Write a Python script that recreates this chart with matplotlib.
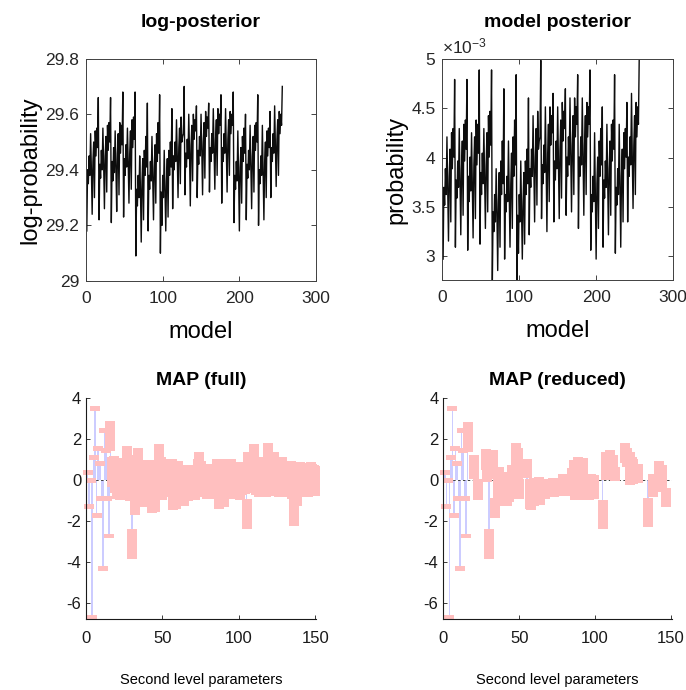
import numpy as np
import matplotlib
matplotlib.use("Agg")
import matplotlib.pyplot as plt
from matplotlib.ticker import FuncFormatter

plt.rcParams['font.family'] = ['Liberation Sans', 'DejaVu Sans']
plt.rcParams['axes.unicode_minus'] = False
plt.rcParams['mathtext.fontset'] = 'custom'
plt.rcParams['mathtext.rm'] = 'Liberation Sans'
plt.rcParams['mathtext.default'] = 'regular'

# log-posterior of each of the 256 reduced models
log_post = [
    29.18, 29.40, 29.35, 29.45, 29.38, 29.53, 29.40, 29.24, 29.43, 29.50, 29.30, 29.54, 29.45, 29.55, 29.48, 29.66,
    29.22, 29.42, 29.37, 29.47, 29.40, 29.55, 29.42, 29.26, 29.45, 29.52, 29.32, 29.56, 29.47, 29.57, 29.50, 29.66,
    29.21, 29.43, 29.36, 29.48, 29.39, 29.54, 29.41, 29.25, 29.46, 29.53, 29.31, 29.57, 29.46, 29.56, 29.49, 29.68,
    29.23, 29.44, 29.38, 29.49, 29.41, 29.55, 29.43, 29.28, 29.46, 29.54, 29.33, 29.58, 29.48, 29.59, 29.51, 29.68,
    29.09, 29.33, 29.27, 29.38, 29.30, 29.45, 29.33, 29.14, 29.36, 29.44, 29.22, 29.47, 29.38, 29.52, 29.41, 29.64,
    29.18, 29.38, 29.33, 29.43, 29.36, 29.52, 29.38, 29.22, 29.41, 29.49, 29.28, 29.53, 29.43, 29.57, 29.46, 29.67,
    29.10, 29.32, 29.20, 29.38, 29.30, 29.47, 29.33, 29.18, 29.36, 29.44, 29.23, 29.47, 29.38, 29.50, 29.41, 29.62,
    29.26, 29.45, 29.40, 29.50, 29.43, 29.58, 29.45, 29.30, 29.48, 29.55, 29.35, 29.59, 29.50, 29.52, 29.53, 29.70,
    29.31, 29.46, 29.41, 29.51, 29.44, 29.60, 29.46, 29.27, 29.49, 29.56, 29.36, 29.60, 29.51, 29.58, 29.54, 29.63,
    29.30, 29.47, 29.42, 29.52, 29.45, 29.60, 29.47, 29.31, 29.50, 29.57, 29.37, 29.61, 29.52, 29.59, 29.55, 29.64,
    29.32, 29.48, 29.43, 29.53, 29.46, 29.62, 29.48, 29.33, 29.51, 29.58, 29.38, 29.62, 29.53, 29.60, 29.56, 29.67,
    29.28, 29.48, 29.43, 29.53, 29.46, 29.62, 29.48, 29.32, 29.51, 29.58, 29.38, 29.61, 29.53, 29.60, 29.56, 29.68,
    29.21, 29.38, 29.33, 29.43, 29.36, 29.54, 29.38, 29.18, 29.41, 29.48, 29.28, 29.52, 29.43, 29.55, 29.46, 29.60,
    29.22, 29.42, 29.37, 29.47, 29.40, 29.56, 29.42, 29.26, 29.45, 29.52, 29.32, 29.56, 29.47, 29.57, 29.50, 29.67,
    29.20, 29.40, 29.35, 29.45, 29.38, 29.56, 29.40, 29.22, 29.43, 29.50, 29.30, 29.54, 29.45, 29.55, 29.48, 29.61,
    29.30, 29.48, 29.43, 29.53, 29.46, 29.63, 29.48, 29.34, 29.51, 29.58, 29.38, 29.61, 29.53, 29.60, 29.56, 29.70,
]

# MAP estimates and confidence half-widths, full model (150 parameters)
map_full = [
    0.37, -1.30, -0.05, -6.75, 1.07, 3.50, -1.75, 1.55, 0.78, -0.93,
    -4.35, 2.40, 1.45, -0.90, -2.75, 2.15, 0.40, 0.45, 0.10, -0.20,
    0.30, -0.25, 0.20, 0.35, 0.10, -0.10, 0.94, 0.50, -0.30, -3.12,
    0.40, -1.00, 0.20, 0.83, 0.10, -0.20, 0.25, -0.60, 0.10, -0.40,
    0.20, 0.25, -0.90, 0.00, -0.85, 0.10, 0.20, 1.03, 0.40, -0.27,
    0.10, 0.29, -0.10, 0.20, 0.00, 0.29, -0.77, 0.10, -0.70, 0.20,
    0.00, -0.03, -0.20, -0.57, 0.00, -0.10, -0.30, -0.27, -0.10, 0.00,
    -0.25, -0.10, 0.30, 0.62, 0.20, 0.00, -0.10, 0.05, -0.20, 0.05,
    -0.20, 0.05, -0.15, 0.00, -0.20, 0.29, -0.68, 0.00, 0.20, -0.60,
    0.29, 0.00, -0.20, 0.10, 0.29, -0.10, 0.13, -0.20, 0.00, 0.13,
    -0.25, 0.00, 0.10, 0.05, -1.66, 0.62, 0.10, 0.30, 0.10, 1.03,
    0.00, 0.20, -0.10, 0.40, 0.20, -0.05, 0.00, -0.10, 1.06, 0.30,
    0.10, -0.05, 0.62, 0.20, 0.10, -0.10, 0.00, 0.40, -0.10, 0.10,
    0.20, 0.10, 0.00, 0.21, -0.20, -1.52, 0.10, -0.57, 0.00, 0.13,
    0.10, -0.10, 0.00, 0.10, -0.10, 0.00, 0.13, 0.05, 0.00, -0.05,
]
ci_full = [
    0.12, 0.12, 0.12, 0.12, 0.12, 0.12, 0.12, 0.12, 0.12, 0.12,
    0.12, 0.12, 0.12, 0.12, 0.12, 0.73, 0.73, 0.73, 0.73, 0.73,
    0.73, 0.73, 0.73, 0.73, 0.73, 0.73, 0.73, 0.73, 0.73, 0.73,
    0.73, 0.73, 0.73, 0.73, 0.73, 0.73, 0.73, 0.73, 0.73, 0.73,
    0.73, 0.73, 0.73, 0.73, 0.73, 0.73, 0.73, 0.73, 0.73, 0.73,
    0.73, 0.73, 0.73, 0.73, 0.73, 0.73, 0.73, 0.73, 0.73, 0.73,
    0.73, 0.73, 0.73, 0.73, 0.73, 0.73, 0.73, 0.73, 0.73, 0.73,
    0.73, 0.73, 0.73, 0.73, 0.73, 0.73, 0.73, 0.73, 0.73, 0.73,
    0.73, 0.73, 0.73, 0.73, 0.73, 0.73, 0.73, 0.73, 0.73, 0.73,
    0.73, 0.73, 0.73, 0.73, 0.73, 0.73, 0.73, 0.73, 0.73, 0.73,
    0.73, 0.73, 0.73, 0.73, 0.73, 0.73, 0.73, 0.73, 0.73, 0.73,
    0.73, 0.73, 0.73, 0.73, 0.73, 0.73, 0.73, 0.73, 0.73, 0.73,
    0.73, 0.73, 0.73, 0.73, 0.73, 0.73, 0.73, 0.73, 0.73, 0.73,
    0.73, 0.73, 0.73, 0.73, 0.73, 0.73, 0.73, 0.73, 0.73, 0.73,
    0.73, 0.73, 0.73, 0.73, 0.73, 0.73, 0.73, 0.73, 0.73, 0.73,
]

# MAP estimates and confidence half-widths, reduced model
map_red = [
    0.37, -1.30, -0.05, -6.75, 1.07, 3.50, -1.75, 1.55, 0.78, -0.93,
    -4.35, 2.40, 1.45, -0.90, -2.75, 2.08, 0, 0, 0, 0.63,
    0, 0, -0.46, 0, 0, 0, 0, 1.00, 0.30, -3.12,
    0, 0, 0.75, -1.38, 0, -0.30, 0.05, -0.40, -0.55, -0.55,
    0, -0.50, -0.35, 0, 0.00, -0.30, 0, 1.10, 0.80, -0.45,
    0, 0, 0, 0, 0.55, 0, -0.70, -0.75, 0, -0.60,
    0, 0, -0.55, -0.60, 0, 0, -0.45, -0.40, 0, 0,
    0, -0.35, -0.45, 0, 0, 0, -0.40, 0, -0.25, -0.30,
    0, 0, -0.30, 0, -0.10, 0.10, -0.20, 0, 0.10, 0,
    -0.10, 0.20, 0, 0, 0, -0.35, -0.30, 0, -0.35, 0,
    0, 0, 0, 0, -1.70, 0, 0.67, 0, 0, 0.75,
    0, 0.60, 0.30, 0, 0, 0, 0, 0, 0, 1.30,
    1.10, 0, 0.55, 0.60, 0.40, 0, 0, 0.30, 0, 0,
    0, 0, 0, 0, -1.60, 0, 0, -0.28, 0, 0,
    0, 0.17, 0, 0.10, 0, 0, -0.85, 0, 0, 0,
]
ci_red = [
    0.12, 0.12, 0.12, 0.12, 0.12, 0.12, 0.12, 0.12, 0.12, 0.12,
    0.12, 0.12, 0.12, 0.12, 0.12, 0.73, 0, 0, 0, 0.58,
    0, 0, 0.52, 0, 0, 0, 0, 0.50, 0.40, 0.73,
    0, 0, 0.70, 0.48, 0, 0.60, 0.60, 0.60, 0.75, 0.75,
    0, 0.80, 0.75, 0, 0.70, 0.65, 0, 0.70, 0.75, 0.50,
    0, 0, 0, 0, 0.45, 0, 0.75, 0.75, 0, 0.70,
    0, 0, 0.70, 0.65, 0, 0, 0.50, 0.45, 0, 0,
    0, 0.45, 0.40, 0, 0, 0, 0.40, 0, 0.55, 0.50,
    0, 0, 0.50, 0, 0.70, 0.85, 0.80, 0, 1.00, 0,
    0.90, 0.85, 0, 0, 0, 0.65, 0.60, 0, 0.60, 0,
    0, 0, 0, 0, 0.70, 0, 0.67, 0, 0, 0.72,
    0, 0.60, 0.35, 0, 0, 0, 0, 0, 0, 0.50,
    0.45, 0, 0.80, 0.50, 0.60, 0, 0, 0.45, 0, 0,
    0, 0, 0, 0, 0.72, 0, 0, 0.57, 0, 0,
    0, 0.77, 0, 0.60, 0, 0, 0.46, 0, 0, 0,
]

log_post = np.array(log_post)
models = np.arange(1, len(log_post) + 1)
prob = np.exp(log_post - log_post.max())
prob = prob / prob.sum()

fig = plt.figure(figsize=(6.86, 6.90), dpi=100)

def style_box(ax):
    ax.tick_params(direction='in', top=True, right=True, labelsize=12.5,
                   length=3.5, width=0.6, colors='0.15', pad=5)
    ax.tick_params(axis='x', pad=7)
    for s in ax.spines.values():
        s.set_linewidth(0.7)
        s.set_color('0.25')

# log-posterior
ax1 = fig.add_axes([0.1254, 0.5928, 0.3353, 0.3222])
ax1.plot(models, log_post, color='0.05', lw=1.0)
ax1.set_xlim(0, 300)
ax1.set_ylim(29, 29.8)
ax1.set_xticks([0, 100, 200, 300])
ax1.set_yticks([29, 29.2, 29.4, 29.6, 29.8])
ax1.set_yticklabels(['29', '29.2', '29.4', '29.6', '29.8'])
style_box(ax1)
ax1.set_title('log-posterior', fontsize=14, fontweight='bold', pad=23)
ax1.set_xlabel('model', fontsize=17, labelpad=11)
ax1.set_ylabel('log-probability', fontsize=17, labelpad=3)

# model posterior
ax2 = fig.add_axes([0.6448, 0.5942, 0.3363, 0.3199])
ax2.plot(models, prob, color='0.05', lw=1.0)
ax2.set_xlim(0, 300)
ax2.set_ylim(2.754e-3, 5e-3)
ax2.set_xticks([0, 100, 200, 300])
ax2.set_yticks([3e-3, 3.5e-3, 4e-3, 4.5e-3, 5e-3])
ax2.yaxis.set_major_formatter(FuncFormatter(lambda v, _: f"{v * 1e3:g}"))
style_box(ax2)
ax2.text(0.0, 1.012, r'$\times10^{-3}$', transform=ax2.transAxes,
         fontsize=12.5, ha='left', va='bottom', color='0.15')
ax2.set_title('model posterior', fontsize=14, fontweight='bold', pad=23)
ax2.set_xlabel('model', fontsize=17, labelpad=11)
ax2.set_ylabel('probability', fontsize=17, labelpad=3)

pink = '#ffbfbf'
blue = '#ccccff'

def plot_ci(ax, est, ci, title):
    est = np.array(est)
    ci = np.array(ci)
    x = np.arange(1, len(est) + 1)
    ax.bar(x, est, width=1.0, color=blue, edgecolor='none', zorder=1)
    ax.axhline(0, color='0.25', lw=0.7, ls=(0, (2.5, 2.5)), zorder=1.5)
    keep = ci > 0
    lc = ax.vlines(x[keep], est[keep] - ci[keep], est[keep] + ci[keep],
                   colors=pink, lw=7.2, zorder=2, clip_on=False)
    lc.set_capstyle('butt')
    ax.set_xlim(0, 150.5)
    ax.set_ylim(-6.83, 4)
    ax.set_xticks([0, 50, 100, 150])
    ax.set_yticks([-6, -4, -2, 0, 2, 4])
    ax.spines['top'].set_visible(False)
    ax.spines['right'].set_visible(False)
    for s in ['left', 'bottom']:
        ax.spines[s].set_linewidth(0.8)
        ax.spines[s].set_color('0.1')
        ax.spines[s].set_zorder(3)
    ax.tick_params(direction='in', labelsize=12, length=3, width=0.6, colors='0.1')
    ax.tick_params(axis='x', pad=8)
    ax.set_title(title, fontsize=14, fontweight='bold', pad=9)
    ax.set_xlabel('Second level parameters', fontsize=10.5, labelpad=20)

ax3 = fig.add_axes([0.1254, 0.1022, 0.3353, 0.321])
plot_ci(ax3, map_full, ci_full, 'MAP (full)')

ax4 = fig.add_axes([0.6462, 0.1022, 0.333, 0.321])
plot_ci(ax4, map_red, ci_red, 'MAP (reduced)')

fig.savefig('out.png', dpi=100)
